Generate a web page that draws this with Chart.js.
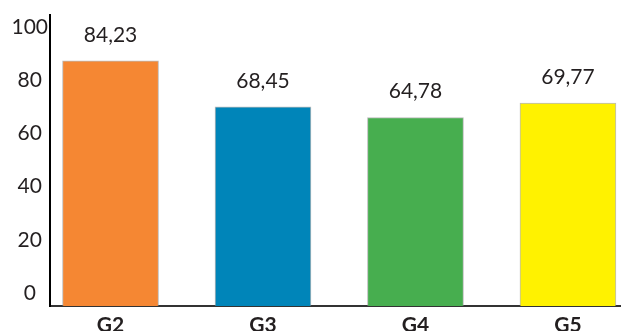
<!DOCTYPE html>
<html>
<head>
<meta charset="utf-8">
<script src="https://cdn.jsdelivr.net/npm/chart.js@4/dist/chart.umd.min.js"></script>
<style>
  html, body { margin: 0; padding: 0; background: #fff; }
  #wrap { width: 621px; height: 331px; }
</style>
</head>
<body>
<div id="wrap"><canvas id="bar-chart"></canvas></div>
<script>
// Data
var categories = ['G2', 'G3', 'G4', 'G5'];
var values = [84.23, 68.45, 64.78, 69.77];
var yTickValues = [0, 20, 40, 60, 80, 100];
var barColors = ['#f58733', '#0085b9', '#47ae4f', '#fff200'];

var textColor = '#231f20';
var fontName = 'Lato, "Open Sans", sans-serif';

// value labels above bars, with decimal comma
var valueLabels = {
  id: 'valueLabels',
  afterDatasetsDraw: function(chart) {
    var ctx = chart.ctx;
    var meta = chart.getDatasetMeta(0);
    ctx.save();
    ctx.fillStyle = textColor;
    ctx.font = '21px ' + fontName;
    ctx.textAlign = 'center';
    ctx.textBaseline = 'middle';
    meta.data.forEach(function(bar, i) {
      ctx.fillText(values[i].toFixed(2).replace('.', ','), bar.x, bar.y - 26);
    });
    ctx.restore();
  }
};

var ctx1 = document.getElementById('bar-chart').getContext('2d');
var barChart = new Chart(ctx1, {
  type: 'bar',
  data: {
    datasets: [{
      data: values.map(function(v, i) { return { x: i, y: v }; }),
      backgroundColor: barColors,
      borderColor: 'rgba(140,140,140,0.6)',
      borderWidth: 1,
      barThickness: 96,
      yAxisID: 'yBars'
    }]
  },
  options: {
    responsive: true,
    maintainAspectRatio: false,
    animation: false,
    layout: { padding: { top: 15, left: 0, right: 0, bottom: 0 } },
    plugins: {
      legend: { display: false },
      tooltip: { enabled: false }
    },
    scales: {
      x: {
        type: 'linear',
        offset: false,
        min: -0.397,
        max: 3.348,
        grid: { display: false, drawTicks: false, offset: false },
        border: { color: '#333333', width: 2 },
        afterBuildTicks: function(scale) {
          scale.ticks = categories.map(function(c, i) { return { value: i }; });
        },
        afterFit: function(scale) { scale.height = 25; },
        ticks: {
          padding: 7,
          color: textColor,
          font: { family: fontName, size: 21, weight: 'bold' },
          callback: function(v) { return categories[v]; }
        }
      },
      yBars: {
        display: false,
        min: 0,
        max: 100
      },
      y: {
        position: 'left',
        min: -4.9,
        max: 104.5,
        grid: { display: false, drawTicks: false },
        border: { color: '#000000', width: 2 },
        afterBuildTicks: function(scale) {
          scale.ticks = yTickValues.map(function(v) { return { value: v }; });
        },
        afterFit: function(scale) { scale.width = 50; },
        ticks: {
          padding: 2,
          crossAlign: 'center',
          color: textColor,
          font: { family: fontName, size: 21 }
        }
      }
    }
  },
  plugins: [valueLabels]
});
</script>
</body>
</html>
